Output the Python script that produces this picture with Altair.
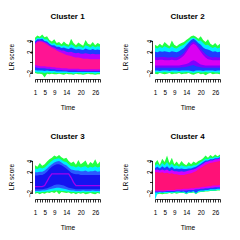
import altair as alt
import pandas as pd

time = list(range(1, 29))
x_label_values = [1, 5, 9, 14, 20, 26]
y_ticks = [-2, 0, 2, 4]
y_hidden = [0]
titles = ["Cluster 1", "Cluster 2", "Cluster 3", "Cluster 4"]

# ---- Cluster 1 (band edges, outermost = lowest membership) ----
c1_g_hi = [4.6,5.0,4.8,5.2,4.7,4.9,4.2,3.9,4.3,3.6,3.8,3.4,3.9,3.5,3.3,4.4,3.6,3.2,3.7,3.4,3.1,4.2,3.5,3.3,3.8,3.2,3.6,3.4]
c1_c_hi = [4.2,4.6,4.5,4.7,4.3,4.3,3.8,3.5,3.6,3.2,3.3,3.0,3.2,3.0,2.9,3.4,3.1,2.8,3.0,2.9,2.7,3.2,3.0,2.8,3.1,2.8,3.0,2.9]
c1_b_hi = [3.9,4.3,4.3,4.4,4.0,3.9,3.5,3.2,3.2,2.9,2.9,2.7,2.8,2.6,2.5,2.8,2.6,2.4,2.5,2.4,2.3,2.6,2.4,2.3,2.5,2.3,2.4,2.3]
c1_p_hi = [3.6,4.0,4.1,4.0,3.8,3.6,3.2,2.9,2.8,2.5,2.4,2.2,2.2,2.0,1.9,2.0,1.8,1.7,1.8,1.6,1.6,1.7,1.6,1.5,1.6,1.5,1.5,1.5]
c1_k_hi = [3.3,3.8,3.9,3.8,3.6,3.3,3.0,2.7,2.5,2.2,2.0,1.8,1.6,1.4,1.3,1.2,1.0,0.9,0.9,0.8,0.7,0.7,0.7,0.6,0.6,0.6,0.6,0.6]
c1_k_lo = [-0.5,-0.6,-0.7,-0.7,-0.7,-0.8,-0.8,-0.9,-0.9,-1.0,-1.0,-1.1,-1.1,-1.1,-1.2,-1.2,-1.2,-1.2,-1.2,-1.3,-1.3,-1.3,-1.3,-1.3,-1.3,-1.3,-1.3,-1.3]
c1_p_lo = [-0.9,-1.0,-1.1,-1.1,-1.1,-1.2,-1.2,-1.3,-1.3,-1.4,-1.4,-1.4,-1.5,-1.5,-1.5,-1.5,-1.5,-1.5,-1.6,-1.6,-1.6,-1.6,-1.6,-1.6,-1.6,-1.6,-1.6,-1.6]
c1_b_lo = [-1.4,-1.5,-1.5,-1.5,-1.6,-1.5,-1.6,-1.6,-1.6,-1.7,-1.7,-1.7,-1.7,-1.7,-1.8,-1.8,-1.8,-1.8,-1.8,-1.8,-1.8,-1.8,-1.8,-1.8,-1.8,-1.8,-1.8,-1.8]
c1_c_lo = [-1.8,-1.9,-1.9,-1.9,-2.0,-1.9,-1.9,-2.0,-1.9,-2.0,-2.0,-2.0,-2.0,-2.0,-2.0,-2.0,-2.1,-2.0,-2.0,-2.0,-2.1,-2.0,-2.0,-2.0,-2.0,-2.1,-2.0,-2.0]
c1_g_lo = [-2.0,-2.1,-2.1,-2.2,-2.8,-2.1,-2.2,-2.1,-2.2,-2.2,-2.1,-2.2,-2.3,-2.1,-2.2,-2.2,-2.3,-2.1,-2.2,-2.2,-2.3,-2.2,-2.1,-2.2,-2.2,-2.3,-2.2,-2.2]

# ---- Cluster 2 ----
c2_g_hi = [3.3,3.0,3.5,3.1,3.8,3.4,3.0,4.1,3.3,3.0,3.4,3.6,3.8,4.2,4.5,4.9,5.0,4.8,4.4,4.9,4.2,3.8,4.3,3.5,3.2,3.6,3.1,3.5]
c2_c_hi = [2.8,2.6,2.9,2.7,3.0,2.8,2.6,3.0,2.7,2.6,2.9,3.1,3.3,3.7,4.1,4.5,4.6,4.4,4.0,4.1,3.6,3.2,3.3,2.9,2.7,2.9,2.6,2.8]
c2_b_hi = [2.0,1.9,2.1,2.0,2.1,2.0,1.9,2.1,2.0,1.9,2.1,2.4,2.7,3.2,3.7,4.2,4.4,4.1,3.6,3.3,2.8,2.5,2.4,2.2,2.0,2.1,1.9,2.0]
c2_p_hi = [1.0,0.9,1.0,1.0,1.0,0.9,0.9,1.0,0.9,0.9,1.1,1.4,1.8,2.4,3.0,3.6,3.9,3.6,3.0,2.5,2.0,1.5,1.2,1.0,0.9,1.0,0.9,0.9]
c2_k_hi = [0.5,0.4,0.5,0.5,0.4,0.4,0.4,0.5,0.4,0.4,0.6,0.9,1.3,1.9,2.6,3.2,3.5,3.2,2.6,2.0,1.4,0.9,0.6,0.5,0.4,0.4,0.4,0.4]
c2_k_lo = [-0.6,-0.6,-0.6,-0.6,-0.6,-0.6,-0.6,-0.6,-0.6,-0.6,-0.6,-0.5,-0.4,-0.3,-0.1,0.2,0.4,0.2,-0.1,-0.4,-0.5,-0.6,-0.6,-0.6,-0.6,-0.6,-0.6,-0.6]
c2_p_lo = [-1.0,-1.0,-1.0,-1.0,-1.0,-1.0,-1.0,-1.0,-1.0,-1.0,-1.0,-0.9,-0.9,-0.8,-0.7,-0.6,-0.5,-0.7,-0.8,-0.9,-1.0,-1.0,-1.0,-1.0,-1.0,-1.0,-1.0,-1.0]
c2_b_lo = [-1.5,-1.5,-1.6,-1.5,-1.5,-1.5,-1.6,-1.5,-1.5,-1.5,-1.6,-1.5,-1.5,-1.5,-1.5,-1.6,-1.7,-1.5,-1.5,-1.5,-1.6,-1.5,-1.5,-1.5,-1.5,-1.6,-1.5,-1.5]
c2_c_lo = [-1.9,-1.8,-1.9,-1.9,-1.8,-1.9,-1.9,-1.8,-1.9,-1.9,-1.8,-1.9,-1.9,-1.8,-1.9,-1.9,-2.0,-1.9,-1.8,-1.9,-1.9,-1.8,-1.9,-1.9,-1.8,-1.9,-1.9,-1.9]
c2_g_lo = [-2.1,-2.2,-2.0,-2.1,-2.2,-2.1,-2.0,-2.2,-2.1,-2.1,-2.0,-2.2,-2.1,-2.1,-2.0,-2.2,-2.3,-2.1,-2.0,-2.2,-2.1,-2.4,-2.1,-2.0,-2.2,-2.1,-2.1,-2.2]

# ---- Cluster 3 ----
c3_g_hi = [3.2,2.9,3.6,3.1,3.4,3.9,4.3,4.6,5.0,4.8,5.1,4.7,4.4,4.6,4.0,3.6,3.9,3.3,4.2,3.4,3.7,4.1,3.2,3.8,3.5,4.3,3.4,3.9]
c3_c_hi = [2.6,2.5,2.8,2.6,2.8,3.2,3.6,4.0,4.3,4.4,4.5,4.2,3.9,3.8,3.4,3.0,3.0,2.8,3.0,2.8,2.9,3.0,2.7,2.9,2.8,3.0,2.8,2.9]
c3_b_hi = [1.9,1.9,2.0,2.0,2.2,2.6,3.0,3.4,3.7,3.9,4.0,3.7,3.4,3.2,2.8,2.4,2.3,2.2,2.2,2.1,2.1,2.2,2.0,2.1,2.1,2.2,2.0,2.1]
c3_p_hi = [1.3,1.3,1.4,1.4,1.6,2.0,2.5,2.9,3.2,3.4,3.4,3.2,2.9,2.6,2.2,1.8,1.6,1.5,1.5,1.4,1.4,1.4,1.4,1.4,1.4,1.4,1.4,1.4]
c3_p_lo = [-1.3,-1.3,-1.3,-1.3,-1.2,-1.1,-0.9,-0.7,-0.5,-0.4,-0.4,-0.5,-0.6,-0.8,-1.0,-1.1,-1.2,-1.3,-1.3,-1.3,-1.3,-1.3,-1.3,-1.3,-1.3,-1.3,-1.3,-1.3]
c3_b_lo = [-1.6,-1.6,-1.6,-1.5,-1.5,-1.4,-1.3,-1.2,-1.1,-1.0,-1.0,-1.1,-1.2,-1.3,-1.4,-1.5,-1.5,-1.6,-1.6,-1.6,-1.5,-1.6,-1.6,-1.6,-1.5,-1.6,-1.6,-1.6]
c3_c_lo = [-1.9,-1.8,-1.9,-1.8,-1.8,-1.7,-1.7,-1.6,-1.5,-1.5,-1.5,-1.6,-1.6,-1.7,-1.7,-1.8,-1.8,-1.9,-1.8,-1.9,-1.8,-1.9,-1.8,-1.9,-1.8,-1.9,-1.8,-1.9]
c3_g_lo = [-2.1,-2.0,-2.2,-2.0,-2.1,-1.9,-2.0,-1.8,-2.0,-1.7,-2.2,-1.8,-1.9,-2.0,-1.9,-2.1,-2.0,-2.2,-2.0,-2.1,-2.0,-2.2,-2.1,-2.0,-2.1,-2.2,-2.0,-2.1]
c3_core_line = [-0.8,-0.8,-0.8,-0.8,-0.6,0.2,1.0,1.6,1.6,1.6,1.6,1.6,1.6,1.6,1.6,0.9,0.0,-0.6,-0.6,-0.6,-0.6,-0.6,-0.6,-0.6,-0.6,-0.6,-0.6,-0.6]

# ---- Cluster 4 ----
c4_g_hi = [3.6,4.2,3.3,4.4,3.8,5.0,3.6,4.6,3.4,3.9,3.3,4.0,3.5,3.2,3.8,3.4,3.9,3.6,4.0,4.2,4.5,5.0,4.6,5.1,4.8,5.2,4.9,5.2]
c4_c_hi = [3.1,3.5,3.0,3.6,3.2,3.8,3.1,3.5,3.0,3.2,2.9,3.2,3.0,2.9,3.1,3.0,3.2,3.2,3.5,3.8,4.1,4.4,4.3,4.6,4.5,4.8,4.7,4.9]
c4_b_hi = [2.7,2.9,2.6,3.0,2.7,3.0,2.6,2.9,2.5,2.6,2.5,2.6,2.5,2.5,2.6,2.6,2.8,2.9,3.2,3.5,3.8,4.1,4.1,4.3,4.3,4.5,4.5,4.7]
c4_p_hi = [2.3,2.4,2.2,2.4,2.2,2.4,2.1,2.3,2.1,2.1,2.0,2.1,2.0,2.1,2.2,2.3,2.4,2.6,2.9,3.2,3.5,3.8,3.9,4.1,4.1,4.3,4.3,4.5]
c4_k_hi = [1.9,1.9,1.8,1.9,1.7,1.8,1.6,1.7,1.5,1.5,1.4,1.4,1.4,1.5,1.6,1.7,1.9,2.1,2.4,2.7,3.0,3.3,3.5,3.6,3.7,3.8,3.9,4.0]
c4_k_lo = [-1.5,-1.5,-1.5,-1.5,-1.5,-1.4,-1.4,-1.4,-1.4,-1.3,-1.3,-1.3,-1.2,-1.2,-1.2,-1.1,-1.1,-1.0,-1.0,-0.9,-0.8,-0.8,-0.7,-0.7,-0.6,-0.6,-0.6,-0.5]
c4_p_lo = [-1.7,-1.7,-1.7,-1.7,-1.7,-1.6,-1.6,-1.6,-1.6,-1.5,-1.5,-1.5,-1.5,-1.5,-1.4,-1.4,-1.4,-1.3,-1.3,-1.2,-1.2,-1.1,-1.1,-1.0,-1.0,-0.9,-0.9,-0.9]
c4_b_lo = [-1.9,-1.9,-1.8,-1.9,-1.8,-1.8,-1.8,-1.8,-1.8,-1.7,-1.7,-1.8,-1.7,-2.0,-1.7,-1.8,-1.6,-2.0,-1.6,-1.5,-1.5,-1.4,-1.4,-1.3,-1.3,-1.3,-1.2,-1.2]
c4_c_lo = [-3.3,-2.1,-2.0,-2.0,-2.0,-2.0,-1.9,-2.0,-1.9,-1.9,-1.9,-1.9,-1.9,-2.1,-1.9,-1.9,-1.8,-2.1,-1.8,-1.7,-1.7,-1.6,-1.6,-1.5,-1.5,-1.5,-1.4,-1.4]
c4_g_lo = [-2.2,-2.2,-2.1,-2.2,-2.1,-2.1,-2.0,-2.1,-2.0,-2.1,-2.0,-2.0,-2.0,-2.2,-2.0,-2.0,-1.9,-2.2,-1.9,-1.8,-1.8,-1.7,-1.7,-1.6,-1.6,-1.6,-1.5,-1.5]

GREEN, CYAN, BLUE = "#22FF44", "#00EEFF", "#1E3CFF"

clusters = [
    dict(bands=[(c1_g_lo, c1_g_hi, GREEN), (c1_c_lo, c1_c_hi, CYAN), (c1_b_lo, c1_b_hi, BLUE),
                (c1_p_lo, c1_p_hi, "#B400FF"), (c1_k_lo, c1_k_hi, "#FF1493")], line=None),
    dict(bands=[(c2_g_lo, c2_g_hi, GREEN), (c2_c_lo, c2_c_hi, CYAN), (c2_b_lo, c2_b_hi, BLUE),
                (c2_p_lo, c2_p_hi, "#8000FF"), (c2_k_lo, c2_k_hi, "#DA00F2")], line=None),
    dict(bands=[(c3_g_lo, c3_g_hi, GREEN), (c3_c_lo, c3_c_hi, CYAN), (c3_b_lo, c3_b_hi, "#2A5BFF"),
                (c3_p_lo, c3_p_hi, "#1414F0")], line=(c3_core_line, "#A000F0")),
    dict(bands=[(c4_g_lo, c4_g_hi, GREEN), (c4_c_lo, c4_c_hi, CYAN), (c4_b_lo, c4_b_hi, BLUE),
                (c4_p_lo, c4_p_hi, "#D400FF"), (c4_k_lo, c4_k_hi, "#FF1177")], line=None),
]

FONT = "Liberation Sans"
xs = alt.Scale(domain=[1, 28], nice=False, zero=False)
ys = alt.Scale(domain=[-3.1, 5.3], nice=False, zero=False)
label_list = "[" + ",".join(str(v) for v in x_label_values) + "]"
hidden_list = "[" + ",".join(str(v) for v in y_hidden) + "]"

x_axis = alt.Axis(title="Time", values=time, tickSize=3, labelPadding=7,
                  labelExpr=f"indexof({label_list}, datum.value) >= 0 ? datum.label : ''",
                  labelOverlap=False, labelFlush=False, titleY=30, titleBaseline="alphabetic")


def y_axis(title_x):
    return alt.Axis(title="LR score", values=y_ticks, tickSize=3, labelPadding=-1.5, offset=2.5,
                    domain=False, labelAngle=270, labelAlign="center", labelBaseline="alphabetic",
                    labelExpr=f"indexof({hidden_list}, datum.value) >= 0 ? '' : datum.label",
                    labelOverlap=False, labelFlush=False, titleX=title_x, titleBaseline="alphabetic",
                    titleAngle=270)


def panel(i, title_x):
    cl = clusters[i]
    ya = y_axis(title_x)
    layers = []
    for lo, hi, color in cl["bands"]:
        df = pd.DataFrame({"t": time, "lo": lo, "hi": hi})
        layers.append(
            alt.Chart(df).mark_area(color=color, opacity=1, clip=True).encode(
                x=alt.X("t:Q", scale=xs, axis=x_axis),
                y=alt.Y("lo:Q", scale=ys, axis=ya),
                y2="hi:Q",
            )
        )
    if cl["line"] is not None:
        vals, color = cl["line"]
        df = pd.DataFrame({"t": time, "lo": vals})
        layers.append(
            alt.Chart(df).mark_line(color=color, strokeWidth=1.3, clip=True).encode(
                x=alt.X("t:Q", scale=xs, axis=x_axis),
                y=alt.Y("lo:Q", scale=ys, axis=ya),
            )
        )
    rdf = pd.DataFrame({"lo": [min(y_ticks)], "hi": [max(y_ticks)]})
    layers.append(
        alt.Chart(rdf).mark_rule(color="black", strokeWidth=0.8).encode(
            x=alt.value(-2.5), y=alt.Y("lo:Q", scale=ys, axis=ya), y2="hi:Q"
        )
    )
    return alt.layer(*layers).properties(
        width=65, height=45,
        title=alt.TitleParams(titles[i], fontSize=8, fontWeight="bold", font=FONT, offset=13,
                              frame="group", anchor="middle", color="black"),
    )


chart = alt.concat(
    panel(0, -18.6), panel(1, -24.8), panel(2, -18.6), panel(3, -24.8),
    columns=2, spacing={"row": 75, "column": 55}, bounds="flush",
).properties(
    padding={"left": 0, "top": 5, "right": 5, "bottom": 2}
).configure_view(stroke=None).configure_axis(
    grid=False, domainColor="black", tickColor="black", labelColor="black", titleColor="black",
    labelFont=FONT, titleFont=FONT, labelFontSize=6.3, titleFontSize=6.6, titleFontWeight="normal",
    tickWidth=0.8, domainWidth=0.8,
)

chart.save("out.html", embed_options={"renderer": "svg", "actions": False})
